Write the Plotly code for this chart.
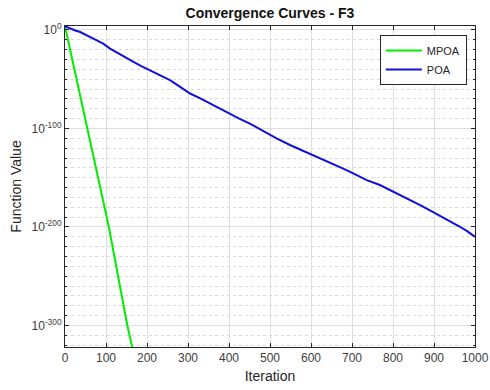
import plotly.graph_objects as go

# Convergence history of the two optimisers on benchmark F3
mpoa_iter = [0, 54, 107, 152, 164]
mpoa_value = [6e3, 1e-100, 1e-200, 1e-300, 1e-322]

poa_iter = [0, 12, 25, 37, 50, 69, 80, 93, 110, 130, 150, 167, 185, 199, 215,
            232, 256, 280, 305, 330, 355, 380, 402, 425, 451, 480, 500, 516,
            550, 580, 606, 630, 654, 680, 703, 736, 768, 801, 833, 865, 898,
            930, 960, 980, 1000]
poa_value = [6e3, 3e1, 3e-1, 8e-3, 3e-5, 1.6e-9, 1e-11, 1.3e-14, 1e-19, 1e-24,
             3e-29, 3e-33, 3e-37, 3e-40, 3e-43, 1e-46, 1e-51, 3e-58, 3e-65,
             3e-70, 1e-75, 1e-80, 1.6e-85, 1e-90, 1e-95, 1e-102, 3e-107,
             1e-110, 1e-117, 3e-123, 1e-127, 1e-131, 3e-136, 1e-141, 2.5e-146,
             4e-153, 4e-158, 1e-164, 1e-171, 3e-178, 1e-185, 1e-192, 1e-199,
             1e-204, 1e-210]

x_ticks = list(range(0, 1001, 100))
y_exponents = [0, -100, -200, -300]
y_tick_text = ["10<sup>%d</sup>" % e for e in y_exponents]
y_minor_exponents = [e for e in range(0, -330, -10) if e % 100 != 0]

axis_color = "#262626"
font = "Liberation Sans, Arial, sans-serif"

fig = go.Figure()
fig.add_trace(go.Scatter(x=mpoa_iter, y=mpoa_value, mode="lines", name="MPOA",
                         line=dict(color="#00ee00", width=2)))
fig.add_trace(go.Scatter(x=poa_iter, y=poa_value, mode="lines", name="POA",
                         line=dict(color="#1010dd", width=2)))

fig.update_layout(
    width=490, height=390,
    margin=dict(l=65, r=15, t=26, b=43, autoexpand=False),
    paper_bgcolor="white", plot_bgcolor="white",
    font=dict(family=font, size=12, color=axis_color),
    title=dict(text="<b>Convergence Curves - F3</b>", x=0.551, xanchor="center",
               y=0.966, yanchor="middle", font=dict(size=14, color="#111111")),
    legend=dict(x=0.98, xanchor="right", y=0.972, yanchor="top",
                bgcolor="white", bordercolor=axis_color, borderwidth=1,
                font=dict(size=11, color=axis_color), tracegroupgap=0,
                itemwidth=36),
    showlegend=True,
)

fig.update_xaxes(
    range=[0, 1000], tickvals=x_ticks, automargin=False,
    showline=True, linecolor=axis_color, linewidth=1, mirror="ticks",
    ticks="inside", ticklen=4, tickcolor=axis_color,
    showgrid=True, gridcolor="#dedede", gridwidth=1, zeroline=False,
    title=dict(text="Iteration", font=dict(size=14, color=axis_color), standoff=6),
    tickfont=dict(size=12, color="#404040"),
)

fig.update_yaxes(
    type="log", range=[-321.8, 4.0], automargin=False,
    tickvals=[10.0 ** e for e in y_exponents], ticktext=y_tick_text,
    showline=True, linecolor=axis_color, linewidth=1, mirror="ticks",
    ticks="inside", ticklen=4, tickcolor=axis_color,
    showgrid=True, gridcolor="#dedede", gridwidth=1, zeroline=False,
    minor=dict(tickvals=[10.0 ** e for e in y_minor_exponents],
               ticks="inside", ticklen=2, tickcolor=axis_color,
               showgrid=True, gridcolor="#dadada", griddash="dot", gridwidth=1),
    title=dict(text="Function Value", font=dict(size=14, color=axis_color), standoff=6),
    tickfont=dict(size=12, color="#404040"),
)

fig.write_html("out.html")
